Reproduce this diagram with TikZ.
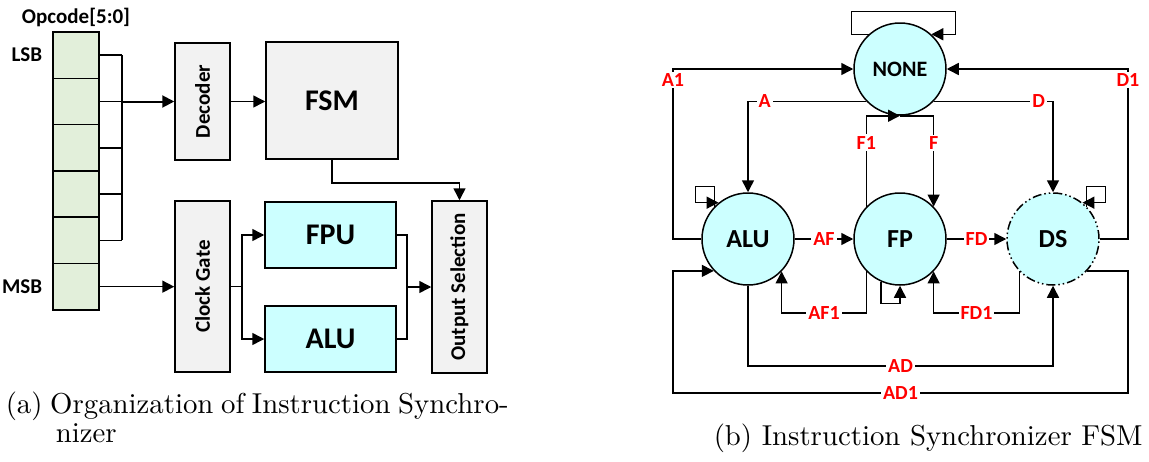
\documentclass[tikz,border=0pt]{standalone}
\usepackage{fontspec}
\usepackage{graphicx}
\usepackage{xcolor}
\usepackage{tikz}
\usetikzlibrary{arrows.meta,positioning}
\newfontfamily\calib{Carlito}
\newfontfamily\capfont{lmroman10-regular}[Extension=.otf]
\definecolor{cellgreen}{HTML}{E2EFDA}
\definecolor{blkgray}{HTML}{F2F2F2}
\definecolor{unitcyan}{HTML}{CCFFFF}
\definecolor{lblred}{HTML}{FF0000}

\begin{document}
\begin{tikzpicture}[x=1pt,y=-1pt,line width=1.5pt,
  >={Triangle[length=12pt,width=12pt]},
  cell/.style={draw,fill=cellgreen,minimum width=46pt,minimum height=46.3pt,inner sep=0pt},
  blk/.style={draw,fill=blkgray,inner sep=0pt,font=\calib\bfseries\fontsize{21}{21}\selectfont},
  unit/.style={draw,fill=unitcyan,minimum width=131pt,minimum height=66pt,font=\calib\bfseries\fontsize{30}{30}\selectfont},
  state/.style={circle,draw,fill=unitcyan,minimum size=92pt,inner sep=0pt,font=\calib\bfseries\fontsize{26}{26}\selectfont},
  lbl/.style={text=lblred,fill=white,inner sep=2pt,font=\calib\bfseries\fontsize{20}{20}\selectfont},
  txt/.style={font=\calib\bfseries\fontsize{21}{21}\selectfont},
  captxt/.style={anchor=base west,inner sep=0pt,font=\capfont\fontsize{28.8}{30}\selectfont}]
\useasboundingbox (0,0) rectangle (1149,461);

% Draw register
\foreach \i in {1,...,6} {
    \node[cell] (c\i) at (76, 8.85+46.3*\i) {};
}
\node[txt] (opc) at (76,17) {Opcode[5:0]};
\node[txt,left=6pt of c1.west] (lsb) {LSB};
\node[txt,left=6pt of c6.west] (msb) {MSB};

% Blocks
\node[blk,minimum width=55pt,minimum height=117pt] (dec) at (202.5,101.5) {\rotatebox{90}{Decoder}};
\node[blk,minimum width=132pt,minimum height=117pt,font=\calib\bfseries\fontsize{30}{30}\selectfont] (fsm) at (332,100.5) {FSM};
\node[blk,minimum width=55pt,minimum height=171pt] (cg) at (202.5,286.5) {\rotatebox{90}{Clock Gate}};
\node[unit] (fpu) at (330.5,235) {FPU};
\node[unit] (alu) at (330.5,339) {ALU};
\node[blk,minimum width=55pt,minimum height=172pt] (os) at (459.5,287) {\rotatebox{90}{Output Selection}};

% Wires
\coordinate (bus) at (122,0);
\foreach \i in {1,...,5} {
    \draw (c\i.east) -- (bus |- c\i.east);
}
\draw (bus |- c1.east) -- (bus |- c5.east);
\draw[->,line width=2pt] (bus |- dec.west) -- (dec.west);
\draw[->] (c6.east) -- (c6.east -| cg.west);
\draw[->] (dec.east) -- (dec.east -| fsm.west);
\coordinate (split) at (242,286.5);
\draw (cg.east) -- (split);
\draw[->] (split) |- (fpu.west);
\draw[->] (split) |- (alu.west);
\draw[->] (fsm.south) -- ++(0,23) -| (os.north);
\coordinate (join) at (407,287);
\draw (fpu.east) -| (join);
\draw (alu.east) -| (join);
\draw[->] (join) -- (os.west);

% States
\node[state,font=\calib\bfseries\fontsize{22}{22}\selectfont] (none) at (900,69) {NONE};
\node[state] (salu) at (748,239) {ALU};
\node[state] (fp) at (900,239) {FP};
\node[state,dash pattern=on 9pt off 3pt on 1.5pt off 3pt on 1.5pt off 3pt] (ds) at (1053,239) {DS};

\coordinate (lrail) at (673,0);
\coordinate (rrail) at (1128,0);
\coordinate (rowF) at (0,313);
\coordinate (rowAD) at (0,366);
\coordinate (rowAD1) at (0,393);

% Transitions
\draw[->] (none.224) -| node[lbl,pos=0.43] {A} (salu.north);
\draw[->] (none.316) -| node[lbl,pos=0.44] {D} (ds.north);
\draw[->] (salu.west) -| (lrail |- none.west) -- (none.west);
\node[lbl] (a1) at (673,80) {A1};
\draw[->] (ds.east) -| (rrail |- none.east) -- (none.east);
\node[lbl] (d1) at (1128,80) {D1};
\draw[->] (fp.136) |- node[lbl,pos=0.35] {F1} (none.south);
\draw[->] (none.south) -| node[lbl,pos=0.65] {F} (fp.44);
\draw[->] (salu.east) -- node[lbl] {AF} (fp.west);
\draw[->] (fp.east) -- node[lbl] {FD} (ds.west);
\draw[->] (fp.224) -- (fp.224 |- rowF) -| node[lbl,pos=0.25] {AF1} (salu.316);
\draw[->] (ds.224) -- (ds.224 |- rowF) -| node[lbl,pos=0.25] {FD1} (fp.316);
\draw[->] (salu.south) -- (salu.south |- rowAD) -| node[lbl,pos=0.25] {AD} (ds.south);
\draw[->] (ds.317) -| (rrail |- rowAD1) -| node[lbl,pos=0.25] {AD1} (lrail |- salu.223) -- (salu.223);

% Self loops
\draw[->] (none.132) -- ++(-17,0) -- ++(0,-23) -| ([xshift=24pt]none.48) -- (none.48);
\draw[->] (salu.136) -- ++(0,-20) -- ++(-19,0) |- (salu.129);
\draw[->] (ds.44) -- ++(0,-20) -- ++(19,0) |- (ds.51);
\draw[->] (fp.246) -- ++(0,22) -| (fp.south);

% Captions
\node[captxt] (capa) at (5,413) {\makebox[503pt][s]{(a) Organization of Instruction Synchro-}};
\node[captxt] (capa2) at (55,442) {nizer};
\node[captxt] (capb) at (713,445) {(b) Instruction Synchronizer FSM};

\end{tikzpicture}
\end{document}
